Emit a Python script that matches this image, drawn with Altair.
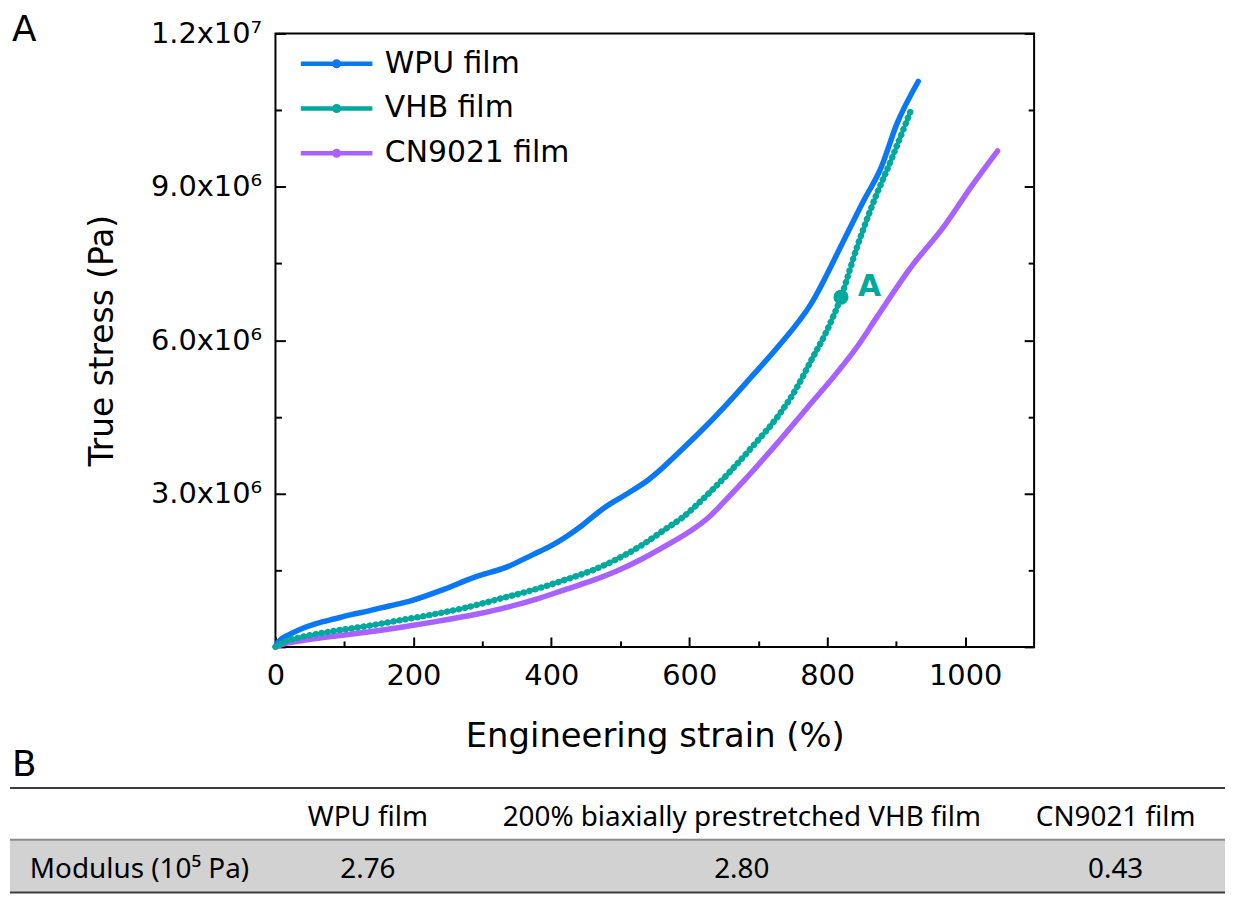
import altair as alt
import pandas as pd

# ---------------- data ----------------
films = ["WPU film", "VHB film", "CN9021 film"]
film_colors = ["#0A78F2", "#00A99E", "#A962FF"]

# engineering strain (%) and true stress (in units of 1e6 Pa)
wpu_strain = [0, 4, 20, 37, 60, 86, 110, 134, 165, 196, 245, 288, 335, 374, 400, 422, 445, 465,
              480, 508, 541, 594, 625, 656, 690, 728, 777, 824, 853, 878, 901, 932]
wpu_stress = [0, 0.10, 0.24, 0.35, 0.46, 0.55, 0.63, 0.70, 0.80, 0.90, 1.13, 1.36, 1.56, 1.81, 1.98,
              2.16, 2.38, 2.60, 2.75, 2.98, 3.27, 3.92, 4.33, 4.77, 5.28, 5.86, 6.72, 7.95, 8.73,
              9.37, 10.23, 11.06]

vhb_strain = [0, 10, 37, 80, 134, 180, 230, 280, 325, 375, 422, 460, 494, 530, 565, 590, 625, 662,
              695, 728, 755, 777, 800, 820, 843, 868, 892, 921]
vhb_stress = [0, 0.08, 0.19, 0.30, 0.41, 0.52, 0.64, 0.78, 0.94, 1.12, 1.32, 1.50, 1.71, 1.98, 2.30,
              2.53, 2.96, 3.47, 3.97, 4.50, 5.05, 5.61, 6.20, 6.84, 7.81, 8.73, 9.50, 10.48]

cn_strain = [0, 10, 37, 80, 134, 180, 230, 280, 325, 375, 422, 460, 494, 530, 565, 600, 627, 650,
             680, 728, 770, 814, 845, 872, 921, 968, 1012, 1047]
cn_stress = [0, 0.05, 0.12, 0.20, 0.29, 0.38, 0.49, 0.61, 0.74, 0.92, 1.13, 1.30, 1.48, 1.71, 1.97,
             2.25, 2.52, 2.83, 3.26, 3.99, 4.66, 5.36, 5.90, 6.45, 7.42, 8.20, 9.06, 9.70]

point_a_strain = [820]
point_a_stress = [6.84]
point_a_label = ["A"]

x_tick_values = [0, 100, 200, 300, 400, 500, 600, 700, 800, 900, 1000]
x_major_values = [0, 200, 400, 600, 800, 1000]
x_tick_labels = ["0", "200", "400", "600", "800", "1000"]

y_tick_values = [0, 1.5, 3.0, 4.5, 6.0, 7.5, 9.0, 10.5, 12.0]      # x 1e6 Pa
y_major_values = [3.0, 6.0, 9.0, 12.0]
y_tick_labels = ["3.0x10⁶", "6.0x10⁶", "9.0x10⁶", "1.2x10⁷"]

panel_labels = ["A", "B"]

table_columns = ["WPU film", "200% biaxially prestretched VHB film", "CN9021 film"]
table_row_label = "Modulus (10⁵ Pa)"
table_modulus = ["2.76", "2.80", "0.43"]

# ---------------- tables ----------------
frames = []
for f, s, v in zip(films, [wpu_strain, vhb_strain, cn_strain], [wpu_stress, vhb_stress, cn_stress]):
    frames.append(pd.DataFrame({"film": f, "strain": s, "stress": [y * 1e6 for y in v]}))
curves = pd.concat(frames, ignore_index=True)

pa = pd.DataFrame({"strain": point_a_strain,
                   "stress": [v * 1e6 for v in point_a_stress],
                   "label": point_a_label})

tdf = pd.DataFrame({"col": table_columns * 2,
                    "row": ["head"] * 3 + ["value"] * 3,
                    "text": table_columns + table_modulus})
rowlab_df = pd.DataFrame({"row": ["value"], "text": [table_row_label]})
one = pd.DataFrame({"k": [0]})

FONT = "DejaVu Sans"
TFONT = "Noto Sans"

x_label_expr = " : ".join(f"datum.value === {v} ? '{l}'" for v, l in zip(x_major_values, x_tick_labels)) + " : ''"
y_label_expr = " : ".join(f"abs(datum.value - {int(v * 1e6)}) < 1 ? '{l}'"
                          for v, l in zip(y_major_values, y_tick_labels)) + " : ''"

x_tick_size = {"condition": {"test": "datum.value % 200 === 0", "value": -10}, "value": -6}
y_tick_size = {"condition": {"test": "abs(datum.value % 3000000) < 1", "value": -10}, "value": -6}


def xs():
    return alt.Scale(domain=[0, 1100], nice=False, zero=False)


def ys():
    return alt.Scale(domain=[0, 1.2e7], nice=False, zero=False)


x_axis = alt.Axis(orient="bottom", values=x_tick_values, labelExpr=x_label_expr,
                  labelFlush=False, labelOverlap=False, labelFont=FONT, labelFontSize=29,
                  labelColor="black", labelPadding=25, tickColor="black", tickWidth=2,
                  tickSize=x_tick_size, domain=False, grid=False,
                  title="Engineering strain (%)", titleFont=FONT, titleFontSize=34,
                  titleFontWeight="normal", titleColor="black", titlePadding=25)

y_axis = alt.Axis(orient="left", values=[v * 1e6 for v in y_tick_values], labelExpr=y_label_expr,
                  labelFlush=False, labelOverlap=False, labelFont=FONT, labelFontSize=29,
                  labelColor="black", labelPadding=24, tickColor="black", tickWidth=2,
                  tickSize=y_tick_size, domain=False, grid=False,
                  title="True stress (Pa)", titleFont=FONT, titleFontSize=33,
                  titleFontWeight="normal", titleColor="black", titlePadding=31)

y_axis_right = alt.Axis(orient="right", values=[v * 1e6 for v in y_tick_values], labels=False,
                        tickColor="black", tickWidth=2, tickSize=y_tick_size,
                        domain=False, grid=False, title=None)

legend_symbol = "M-2,0L2,0M-0.13,0A0.13,0.13,0,1,0,0.13,0A0.13,0.13,0,1,0,-0.13,0Z"
legend = alt.Legend(orient="none", legendX=41, legendY=10, title=None,
                    symbolType=legend_symbol, symbolSize=1296, symbolStrokeWidth=4.5,
                    labelFont=FONT, labelFontSize=30, labelColor="black", labelOffset=28,
                    labelLimit=0, rowPadding=9, padding=0)

color_enc = alt.Color("film:N", scale=alt.Scale(domain=films, range=film_colors), legend=legend)

lines_thick = alt.Chart(curves).transform_filter(alt.datum.film != films[1]).mark_line(
    interpolate="monotone", strokeWidth=5.5, strokeCap="round", strokeJoin="round").encode(
    x=alt.X("strain:Q", scale=xs(), axis=x_axis),
    y=alt.Y("stress:Q", scale=ys(), axis=y_axis),
    color=color_enc,
)

lines_teal = alt.Chart(curves).transform_filter(alt.datum.film == films[1]).mark_line(
    interpolate="monotone", strokeWidth=3.6, strokeCap="round", strokeJoin="round").encode(
    x=alt.X("strain:Q", scale=xs(), axis=None),
    y=alt.Y("stress:Q", scale=ys(), axis=None),
    color=color_enc,
)

beads = alt.Chart(curves).transform_filter(alt.datum.film == films[1]).mark_line(
    interpolate="monotone", strokeWidth=6.5, strokeDash=[0.1, 6.0], strokeCap="round",
    color=film_colors[1]
).encode(
    x=alt.X("strain:Q", scale=xs(), axis=None),
    y=alt.Y("stress:Q", scale=ys(), axis=y_axis_right),
)

pt = alt.Chart(pa).mark_circle(size=230, opacity=1, color=film_colors[1]).encode(
    x=alt.X("strain:Q", scale=xs(), axis=None),
    y=alt.Y("stress:Q", scale=ys(), axis=None),
)
pt_text = alt.Chart(pa).mark_text(align="left", baseline="middle", dx=17, dy=-10, font=FONT,
                                  fontSize=30, fontWeight="bold", color=film_colors[1]).encode(
    x=alt.X("strain:Q", scale=xs(), axis=None),
    y=alt.Y("stress:Q", scale=ys(), axis=None),
    text="label:N",
)

# ---------------- table (panel B) ----------------
tx = alt.X("col:N", scale=alt.Scale(domain=table_columns, range=[93, 845], padding=0), axis=None)
ty = alt.Y("row:N", scale=alt.Scale(domain=["head", "value"], range=[789, 841], padding=0), axis=None)

band = alt.Chart(one).mark_rect(color="#D2D2D2").encode(
    x=alt.value(-267), x2=alt.value(955), y=alt.value(811), y2=alt.value(864))
rule_top = alt.Chart(one).mark_rule(color="#3C3C3C", strokeWidth=2).encode(
    x=alt.value(-267), x2=alt.value(955), y=alt.value(759))
rule_mid = alt.Chart(one).mark_rule(color="#8C8C8C", strokeWidth=2).encode(
    x=alt.value(-267), x2=alt.value(955), y=alt.value(811))
rule_bot = alt.Chart(one).mark_rule(color="#3C3C3C", strokeWidth=2).encode(
    x=alt.value(-267), x2=alt.value(955), y=alt.value(864))

cells = alt.Chart(tdf).mark_text(font=TFONT, fontSize=28, color="black", baseline="middle").encode(
    x=tx, y=ty, text="text:N")
rowlab = alt.Chart(rowlab_df).mark_text(font=TFONT, fontSize=28, color="black", baseline="middle",
                                        align="left").encode(
    x=alt.value(-247), y=ty, text="text:N")

letter_a = alt.Chart(pd.DataFrame({"t": [panel_labels[0]]})).mark_text(
    font=FONT, fontSize=36, color="black", align="left", baseline="top").encode(
    x=alt.value(-265), y=alt.value(-20), text="t:N")
letter_b = alt.Chart(pd.DataFrame({"t": [panel_labels[1]]})).mark_text(
    font=FONT, fontSize=36, color="black", align="left", baseline="top").encode(
    x=alt.value(-265), y=alt.value(719), text="t:N")

chart = alt.layer(
    lines_thick, lines_teal, beads, pt, pt_text,
    band, rule_top, rule_mid, rule_bot, cells, rowlab, letter_a, letter_b,
).resolve_scale(x="independent", y="independent").properties(
    width=763, height=617,
    autosize=alt.AutoSizeParams(type="none"),
    padding={"left": 269, "top": 23, "right": 194, "bottom": 250},
).configure_view(stroke="black", strokeWidth=2)

chart.save("out.html", embed_options={"renderer": "svg", "actions": False})
